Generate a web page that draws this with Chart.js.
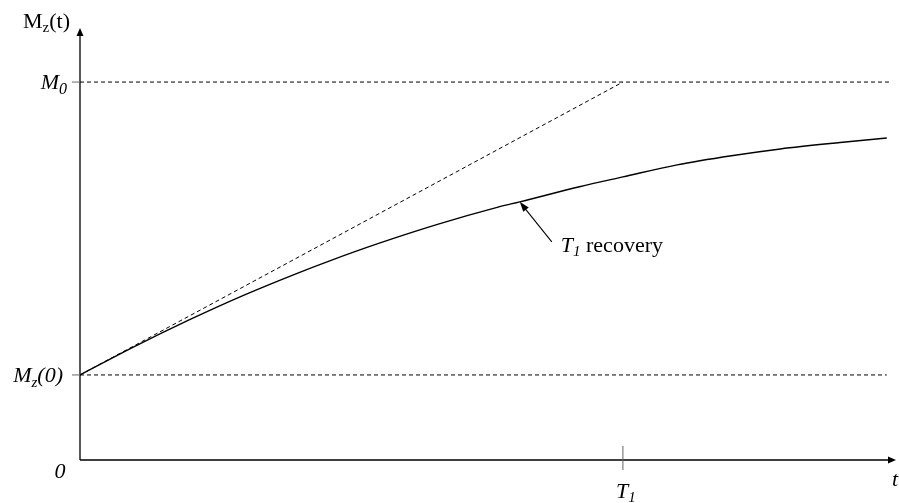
<!DOCTYPE html>
<html>
<head>
<meta charset="utf-8">
<script src="https://cdn.jsdelivr.net/npm/chart.js@4"></script>
<style>
  html, body { margin: 0; padding: 0; background: #fff; }
  #wrap { width: 899px; height: 503px; }
</style>
</head>
<body>
<div id="wrap"><canvas id="t1chart" width="899" height="503"></canvas></div>
<script>
// time in units of T1, magnetisation in units of M0
const tValues = [0, 0.1, 0.2, 0.3, 0.4, 0.46, 0.55, 0.66, 0.77, 0.81, 0.92, 1.0, 1.1, 1.2, 1.29, 1.4, 1.486];
const mzValues = [0.225, 0.300, 0.370, 0.435, 0.494, 0.527, 0.573, 0.624, 0.669, 0.683, 0.723, 0.749, 0.781, 0.805, 0.823, 0.840, 0.852];

const M0 = 1;
const MZ0 = 0.225;
const T1 = 1;
const T_END = 1.49;    // where the dashed guide lines stop
const X_MAX = 1.503;   // arrow tip of the time axis
const Y_MAX = 1.143;   // arrow tip of the Mz axis

// arrow pointing at the curve: tail -> tip (data units)
const arrowTail = { x: 0.869, y: 0.577 };
const arrowTip = { x: 0.81, y: 0.683 };

const FONT = "'Liberation Serif', 'Times New Roman', serif";
const BIG = 22;
const SUB = 15;

// draws text made of parts (main / subscript)
function drawParts(ctx, parts, x, baseline, align) {
    let total = 0;
    parts.forEach(p => {
        ctx.font = (p.italic ? 'italic ' : '') + p.size + 'px ' + FONT;
        p.w = ctx.measureText(p.text).width;
        total += p.w;
    });
    let cx = x;
    if (align === 'right') cx = x - total;
    if (align === 'center') cx = x - total / 2;
    ctx.textAlign = 'left';
    ctx.textBaseline = 'alphabetic';
    ctx.fillStyle = '#000';
    parts.forEach(p => {
        ctx.font = (p.italic ? 'italic ' : '') + p.size + 'px ' + FONT;
        ctx.fillText(p.text, cx, baseline + (p.dy || 0));
        cx += p.w;
    });
}

const sketchPlugin = {
    id: 'sketch',
    afterDatasetsDraw(chart) {
        const { ctx, chartArea, scales: { x, y } } = chart;
        const x0 = x.getPixelForValue(0);
        const y0 = y.getPixelForValue(0);
        ctx.save();

        // axes
        ctx.strokeStyle = '#000';
        ctx.lineWidth = 1.3;
        ctx.setLineDash([]);
        ctx.beginPath();
        ctx.moveTo(x0, y0);
        ctx.lineTo(x0, chartArea.top + 6);
        ctx.moveTo(x0, y0);
        ctx.lineTo(chartArea.right - 6, y0);
        ctx.stroke();

        ctx.fillStyle = '#000';
        ctx.beginPath();
        ctx.moveTo(x0, chartArea.top);
        ctx.lineTo(x0 - 3.5, chartArea.top + 8);
        ctx.lineTo(x0 + 3.5, chartArea.top + 8);
        ctx.closePath();
        ctx.fill();
        ctx.beginPath();
        ctx.moveTo(chartArea.right, y0);
        ctx.lineTo(chartArea.right - 8, y0 - 3.5);
        ctx.lineTo(chartArea.right - 8, y0 + 3.5);
        ctx.closePath();
        ctx.fill();

        // small ticks
        ctx.strokeStyle = '#666';
        ctx.lineWidth = 1;
        const yM0 = y.getPixelForValue(M0);
        const yMz0 = y.getPixelForValue(MZ0);
        const xT1 = x.getPixelForValue(T1);
        ctx.beginPath();
        ctx.moveTo(x0 - 8, yM0); ctx.lineTo(x0, yM0);
        ctx.moveTo(x0 - 8, yMz0); ctx.lineTo(x0, yMz0);
        ctx.moveTo(xT1, y0 - 14); ctx.lineTo(xT1, y0 + 10);
        ctx.stroke();

        // arrow to the curve
        const ax = x.getPixelForValue(arrowTail.x), ay = y.getPixelForValue(arrowTail.y);
        const bx = x.getPixelForValue(arrowTip.x), by = y.getPixelForValue(arrowTip.y);
        const ang = Math.atan2(by - ay, bx - ax);
        ctx.strokeStyle = '#000';
        ctx.lineWidth = 1.1;
        ctx.beginPath();
        ctx.moveTo(ax, ay);
        ctx.lineTo(bx - 6 * Math.cos(ang), by - 6 * Math.sin(ang));
        ctx.stroke();
        ctx.beginPath();
        ctx.moveTo(bx, by);
        ctx.lineTo(bx - 10 * Math.cos(ang) + 3.5 * Math.sin(ang), by - 10 * Math.sin(ang) - 3.5 * Math.cos(ang));
        ctx.lineTo(bx - 10 * Math.cos(ang) - 3.5 * Math.sin(ang), by - 10 * Math.sin(ang) + 3.5 * Math.cos(ang));
        ctx.closePath();
        ctx.fill();

        // labels
        drawParts(ctx, [
            { text: 'M', size: BIG },
            { text: 'z', size: SUB, dy: 4 },
            { text: '(t)', size: BIG }
        ], x0 - 10, chartArea.top, 'right');
        drawParts(ctx, [
            { text: 'M', size: BIG, italic: true },
            { text: '0', size: SUB + 1, italic: true, dy: 5 }
        ], x0 - 13, yM0 + 7, 'right');
        drawParts(ctx, [
            { text: 'M', size: BIG, italic: true },
            { text: 'z', size: SUB, italic: true, dy: 5 },
            { text: '(0)', size: BIG, italic: true }
        ], x0 - 17, yMz0 + 7, 'right');
        drawParts(ctx, [{ text: '0', size: BIG, italic: true }], x0 - 20, y0 + 18, 'center');
        drawParts(ctx, [
            { text: 'T', size: BIG, italic: true },
            { text: '1', size: SUB, italic: true, dy: 4 }
        ], xT1 + 3, y0 + 38, 'center');
        drawParts(ctx, [{ text: 't', size: BIG, italic: true }], chartArea.right - 1, y0 + 26, 'center');
        drawParts(ctx, [
            { text: 'T', size: BIG, italic: true },
            { text: '1', size: SUB, italic: true, dy: 4 },
            { text: ' recovery', size: BIG }
        ], ax + 9, ay + 10, 'left');

        ctx.restore();
    }
};

const curvePoints = tValues.map((t, i) => ({ x: t, y: mzValues[i] }));
const dashed = { borderColor: '#000', borderWidth: 1, borderDash: [4, 3], pointRadius: 0, fill: false };

new Chart(document.getElementById('t1chart'), {
    type: 'line',
    data: {
        datasets: [
            {
                label: 'T1 recovery',
                data: curvePoints,
                borderColor: '#000',
                borderWidth: 1.4,
                pointRadius: 0,
                fill: false,
                cubicInterpolationMode: 'monotone'
            },
            Object.assign({ label: 'initial slope', data: [{ x: 0, y: MZ0 }, { x: T1, y: M0 }] }, dashed),
            Object.assign({ label: 'M0', data: [{ x: 0, y: M0 }, { x: T_END, y: M0 }] }, dashed),
            Object.assign({ label: 'Mz(0)', data: [{ x: 0, y: MZ0 }, { x: T_END - 0.004, y: MZ0 }] }, dashed)
        ]
    },
    options: {
        responsive: false,
        animation: false,
        layout: { padding: { left: 80, right: 3, top: 28, bottom: 43 } },
        plugins: {
            legend: { display: false },
            tooltip: { enabled: false }
        },
        scales: {
            x: { type: 'linear', min: 0, max: X_MAX, display: false },
            y: { type: 'linear', min: 0, max: Y_MAX, display: false }
        }
    },
    plugins: [sketchPlugin]
});
</script>
</body>
</html>
